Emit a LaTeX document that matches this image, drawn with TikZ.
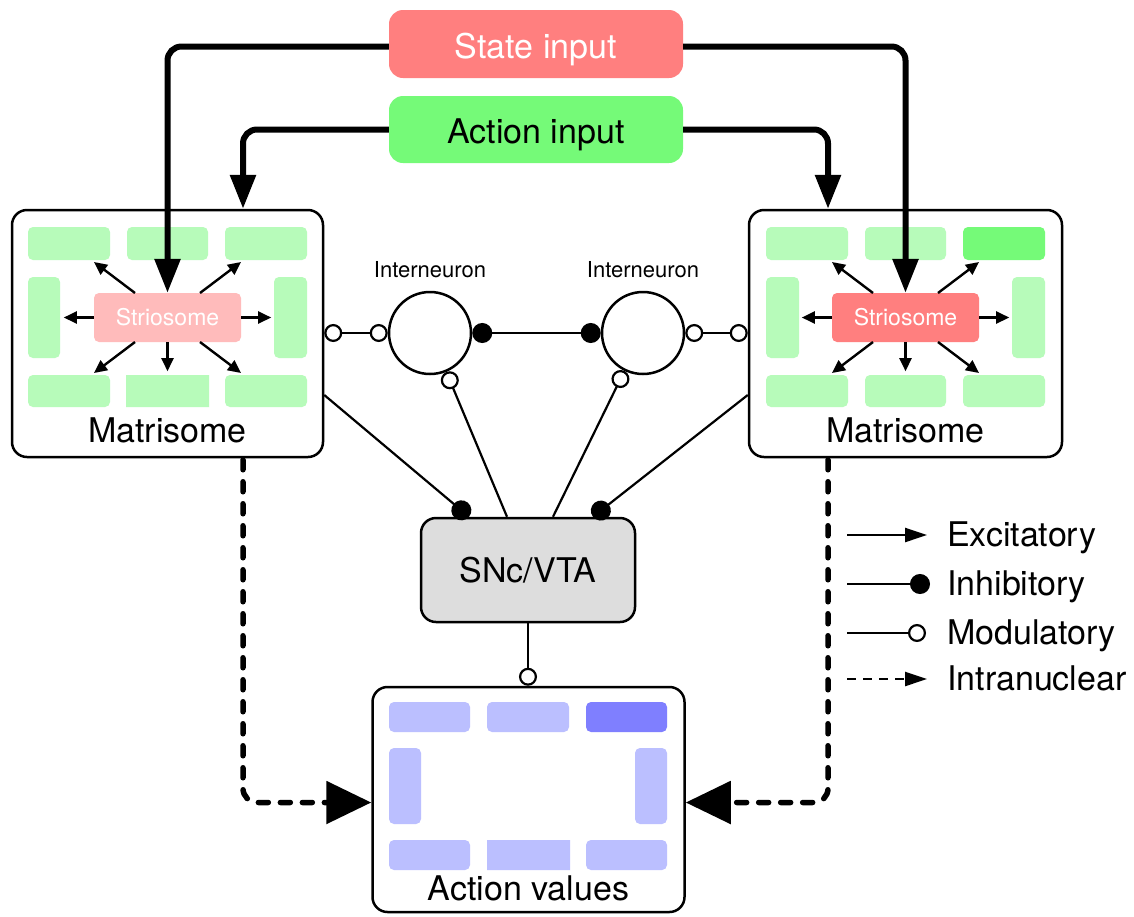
\documentclass[tikz,border=0pt]{standalone}
\usepackage{fontspec}
\setmainfont{TeX Gyre Heros}
\usetikzlibrary{arrows.meta,calc}
\definecolor{salmon}{HTML}{FF7F7F}
\definecolor{actgreen}{HTML}{75FA78}
\definecolor{cellgreen}{HTML}{B7FBBA}
\definecolor{pinklight}{HTML}{FFBBBB}
\definecolor{cellblue}{HTML}{BBBFFF}
\definecolor{darkblue}{HTML}{7F7FFF}
\definecolor{sncgray}{HTML}{DDDDDD}
\newcommand\bigfnt{\fontsize{34}{40}\selectfont}
\newcommand\smallfnt{\fontsize{22}{26}\selectfont}
\newcommand\striofnt{\fontsize{23}{27}\selectfont}
\begin{document}
\begin{tikzpicture}[x=1pt,y=-1pt,
  box/.style={draw, line width=2.5pt, rounded corners=15pt, fill=white, inner sep=0pt},
  inp/.style={rounded corners=14pt, inner sep=0pt, minimum width=294pt, minimum height=68pt, font=\bigfnt, text height=28pt, text depth=0pt},
  cell/.style={inner sep=0pt, draw=none},
  neuron/.style={circle, draw, line width=2.5pt, minimum size=82pt, inner sep=0pt, fill=white},
  thickarr/.style={line width=6pt, rounded corners=14pt, -{Triangle[length=34pt,width=25pt]}},
  dasharr/.style={line width=5.5pt, rounded corners=14pt, dash pattern=on 10pt off 12pt, line cap=round, -{Triangle[length=45pt,width=42pt]}},
  exc/.style={line width=2.4pt, -{Triangle[length=13pt,width=12pt]}},
  exclg/.style={line width=2.4pt, -{Triangle[length=22pt,width=14pt]}},
  inh/.style={line width=2.2pt, -{Circle[length=20pt]}},
  modl/.style={line width=2.2pt, -{Circle[open,length=18pt,fill=white]}},
  lab/.style={font=\bigfnt, inner sep=0pt}
]
\useasboundingbox (0,0) rectangle (1134,916);

% input boxes
\node[inp, fill=salmon, text=white] (state) at (536,44) {State input};
\node[inp, fill=actgreen, minimum height=67pt] (action) at (536,129.5) {Action input};

% matrisome boxes
\node[box, minimum width=311pt, minimum height=247pt] (Lm) at (167.5,333.5) {};
\node[box, minimum width=313pt, minimum height=247pt] (Rm) at (905.5,333.5) {};
\node[box, fill=sncgray, minimum width=214pt, minimum height=104pt, font=\bigfnt] (snc) at (528,570) {SNc/VTA};
\node[box, minimum width=312pt, minimum height=225pt] (av) at (528.5,799.5) {};

% cells of left matrisome
\foreach \dx/\dy/\w/\h/\r [count=\i] in {-98.5/-90/82/33/5, 0/-90/81/33/5, 98.5/-90/82/33/5, -123.5/-16/32/81/5, 123/-16/33/81/5, -98.5/57.5/82/32/5, 0/57.5/83/32/0.01, 98.5/57.5/82/32/5}
  \node[cell, fill=cellgreen, minimum width=\w pt, minimum height=\h pt, rounded corners=\r pt] (Lc\i) at ($(Lm.center)+(\dx,\dy)$) {};
% cells of right matrisome
\foreach \dx/\dy/\w/\h/\c [count=\i] in {-98.5/-90/82/33/cellgreen, 0/-90/81/33/cellgreen, 98.5/-90/82/33/actgreen, -123/-16/33/81/cellgreen, 123/-16/33/81/cellgreen, -98.5/57.5/82/32/cellgreen, 0/57.5/81/32/cellgreen, 98.5/57.5/82/32/cellgreen}
  \node[cell, fill=\c, minimum width=\w pt, minimum height=\h pt, rounded corners=5pt] (Rc\i) at ($(Rm.center)+(\dx,\dy)$) {};
% cells of action values
\foreach \dx/\dy/\w/\h/\r/\c [count=\i] in {-99/-82.5/81/30/5/cellblue, -0.5/-82.5/82/30/5/cellblue, 98/-82.5/81/30/5/darkblue, -123.5/-13.5/32/76/5/cellblue, 122.5/-13.5/32/76/5/cellblue, -99/55.5/81/30/5/cellblue, 0/55.5/83/30/0.01/cellblue, 98/55.5/81/30/5/cellblue}
  \node[cell, fill=\c, minimum width=\w pt, minimum height=\h pt, rounded corners=\r pt] (Ac\i) at ($(av.center)+(\dx,\dy)$) {};

% striosomes
\node[cell, fill=pinklight, text=white, rounded corners=5pt, minimum width=147pt, minimum height=49pt, font=\striofnt] (Lstr) at (167.5,317.5) {Striosome};
\node[cell, fill=salmon, text=white, rounded corners=5pt, minimum width=147pt, minimum height=49pt, font=\striofnt] (Rstr) at (905.5,317.5) {Striosome};

% labels
\node[lab] (Lml) at ($(Lm.center)+(0,97)$) {Matrisome};
\node[lab] (Rml) at ($(Rm.center)+(0,97)$) {Matrisome};
\node[lab] (avl) at ($(av.center)+(0,88.5)$) {Action values};

% striosome to matrix arrows
\foreach \s in {Lstr,Rstr}{
  \draw[exc] ($(\s.center)+(-32.5,-24.5)$) -- ++(-41,-31);
  \draw[exc] ($(\s.center)+(32.5,-24.5)$) -- ++(41,-31);
  \draw[exc] (\s.west) -- ++(-30,0);
  \draw[exc] (\s.east) -- ++(30,0);
  \draw[exc] ($(\s.center)+(-32.5,24.5)$) -- ++(-41,31);
  \draw[exc] (\s.south) -- ++(0,29);
  \draw[exc] ($(\s.center)+(32.5,24.5)$) -- ++(41,31);
}

% interneurons
\node[neuron] (in1) at (430,333) {};
\node[neuron] (in2) at (643,333) {};
\node[font=\smallfnt] (in1l) at (430,270) {Interneuron};
\node[font=\smallfnt] (in2l) at (643,270) {Interneuron};

\draw[line width=2.2pt, {Circle[open,length=18pt,fill=white]}-{Circle[open,length=18pt,fill=white]}] (Lm.east |- in1) -- (in1.west);
\draw[line width=2.2pt, {Circle[open,length=18pt,fill=white]}-{Circle[open,length=18pt,fill=white]}] (Rm.west |- in2) -- (in2.east);
\draw[line width=2.2pt, {Circle[length=20pt]}-{Circle[length=20pt]}] (in1.east) -- (in2.west);

% to / from SNc
\draw[modl] ($(snc.north)+(-21,0)$) -- (in1);
\draw[modl] ($(snc.north)+(25,0)$) -- (in2);
\draw[inh] ($(Lm.east)+(0,61.5)$) -- ($(snc.north)+(-59,0)$);
\draw[inh] ($(Rm.west)+(0,61.5)$) -- ($(snc.north)+(65,0)$);
\draw[modl] (snc.south) -- (snc.south |- av.north);

% thick input arrows
\draw[thickarr] ($(state.west)+(0,2.5)$) -| (Lstr.north);
\draw[thickarr] ($(state.east)+(0,2.5)$) -| (Rstr.north);
\draw[thickarr] (action.west) -| ($(Lm.north)+(75.5,0)$);
\draw[thickarr] (action.east) -| ($(Rm.north)+(-77.5,0)$);

% intranuclear
\draw[dasharr] ($(Lm.south)+(75.5,1.5)$) |- ($(av.west)+(0,3)$);
\draw[dasharr] ($(Rm.south)+(-77.5,1.5)$) |- ($(av.east)+(0,3)$);

% legend
\coordinate (g1) at (847,535); \coordinate (g1e) at (927,535);
\coordinate (g2) at (847,584); \coordinate (g2e) at (930,584);
\coordinate (g3) at (847,633); \coordinate (g3e) at (926,633);
\coordinate (g4) at (847,679); \coordinate (g4e) at (927,679);
\draw[exclg] (g1) -- (g1e);
\draw[inh] (g2) -- (g2e);
\draw[modl] (g3) -- (g3e);
\draw[line width=2.4pt, dash pattern=on 9pt off 7pt, -{Triangle[length=22pt,width=14pt]}] (g4) -- (g4e);
\node[lab, anchor=base west] (lgE) at (947,546) {Excitatory};
\node[lab, anchor=base west] (lgI) at (947,595) {Inhibitory};
\node[lab, anchor=base west] (lgM) at (947,644) {Modulatory};
\node[lab, anchor=base west] (lgN) at (947,690) {Intranuclear};
\end{tikzpicture}
\end{document}
